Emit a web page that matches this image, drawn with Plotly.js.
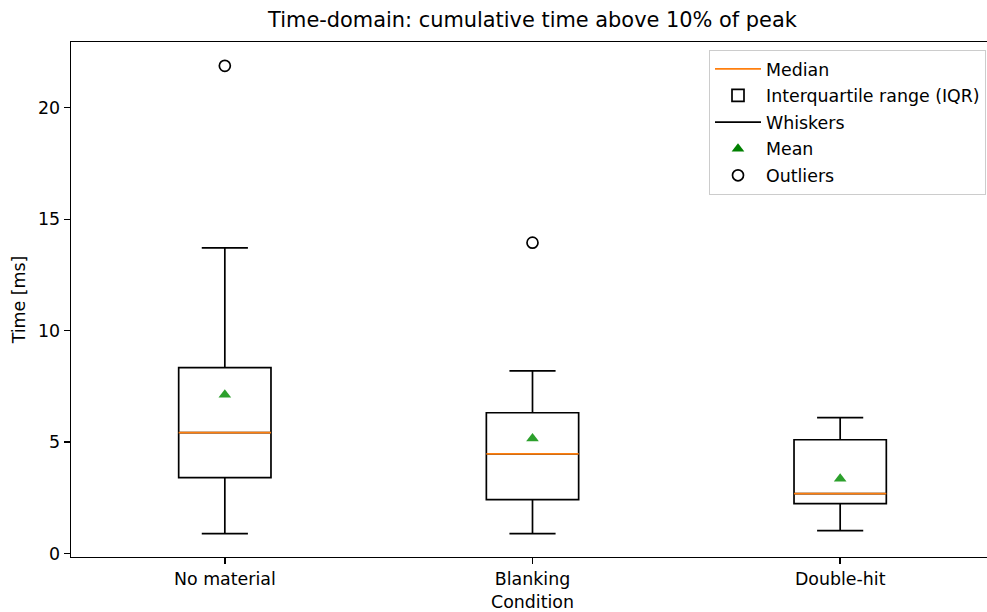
<!DOCTYPE html>
<html>
<head>
<meta charset="utf-8">
<script src="https://cdn.plot.ly/plotly-3.0.1.min.js"></script>
<style>
html,body{margin:0;padding:0;overflow:hidden;background:#fff;}
#chart{width:1000px;height:612px;}
</style>
</head>
<body>
<div id="chart"></div>
<script>
// ---- data ----
const categories = ["No material", "Blanking", "Double-hit"];
const positions = [1, 2, 3];
const lowerWhisker = [0.9, 0.9, 1.03];
const q1 = [3.41, 2.42, 2.24];
const median = [5.43, 4.48, 2.69];
const q3 = [8.34, 6.32, 5.11];
const upperWhisker = [13.72, 8.2, 6.1];
const means = [7.13, 5.16, 3.36];
const outlierX = [1, 2];
const outlierY = [21.88, 13.95];

// ---- styles ----
const BOX_W = 0.3;
const FONT = "DejaVu Sans, sans-serif";
const FS = 17.4;
const LW = 1.7;

const medX = [], medY = [];
positions.forEach((p, i) => {
  medX.push(p - BOX_W / 2, p + BOX_W / 2, null);
  medY.push(median[i], median[i], null);
});

const traces = [
  {
    type: "scatter", mode: "lines", name: "Median",
    x: medX, y: medY,
    line: {color: "#ff7f0e", width: LW},
    legendgroup: "a", legendrank: 1, hoverinfo: "skip"
  },
  {
    type: "box", name: "Interquartile range (IQR)",
    x: positions, q1: q1, median: median, q3: q3,
    lowerfence: lowerWhisker, upperfence: upperWhisker,
    width: BOX_W, whiskerwidth: 0.5,
    boxpoints: false,
    line: {color: "#000000", width: LW},
    fillcolor: "rgba(255,255,255,0)",
    legendgroup: "b", legendrank: 2, hoverinfo: "skip"
  },
  {
    type: "scatter", mode: "lines", name: "Whiskers",
    x: [null], y: [null],
    line: {color: "#000000", width: LW},
    legendgroup: "c", legendrank: 3
  },
  {
    type: "scatter", mode: "markers", name: "Mean",
    x: positions, y: means,
    marker: {symbol: "triangle-up", size: 11, color: "#2ca02c"},
    showlegend: false, hoverinfo: "skip"
  },
  {
    type: "scatter", mode: "markers", name: "Mean",
    x: [null], y: [null],
    marker: {symbol: "triangle-up", size: 11, color: "#008000"},
    legendgroup: "d", legendrank: 4
  },
  {
    type: "scatter", mode: "markers", name: "Outliers",
    x: outlierX, y: outlierY,
    marker: {symbol: "circle-open", size: 11, color: "#000000", line: {width: LW}},
    legendgroup: "e", legendrank: 5, hoverinfo: "skip"
  }
];

const layout = {
  width: 1000, height: 612,
  margin: {l: 71, r: 6, t: 42, b: 55},
  paper_bgcolor: "#ffffff", plot_bgcolor: "#ffffff",
  font: {family: FONT, size: FS, color: "#000000"},
  title: {
    text: "Time-domain: cumulative time above 10% of peak",
    font: {family: FONT, size: 20.9, color: "#000000"},
    xref: "paper", x: 0.5, xanchor: "center",
    yref: "container", y: 1 - 20 / 612, yanchor: "middle"
  },
  xaxis: {
    range: [0.5, 3.5],
    tickvals: positions, ticktext: categories,
    showline: true, mirror: true, linecolor: "#000000", linewidth: 1.4,
    ticks: "outside", ticklen: 6, tickwidth: 1.4, tickcolor: "#000000",
    showgrid: false, zeroline: false,
    tickfont: {family: FONT, size: FS},
    title: {text: "Condition", font: {family: FONT, size: FS}, standoff: 7}
  },
  yaxis: {
    range: [-0.15, 22.95],
    tickvals: [0, 5, 10, 15, 20],
    showline: true, mirror: true, linecolor: "#000000", linewidth: 1.4,
    ticks: "outside", ticklen: 6, tickwidth: 1.4, tickcolor: "#000000",
    showgrid: false, zeroline: false,
    tickfont: {family: FONT, size: FS},
    title: {text: "Time [ms]", font: {family: FONT, size: FS}, standoff: 8}
  },
  showlegend: true,
  legend: {
    x: (986 - 71) / 923, xanchor: "right",
    y: (557 - 50) / 515, yanchor: "top",
    bgcolor: "rgba(255,255,255,0.8)",
    bordercolor: "#cccccc", borderwidth: 1,
    font: {family: FONT, size: FS},
    itemwidth: 46,
    traceorder: "grouped", tracegroupgap: 1
  },
  hovermode: false
};

Plotly.newPlot("chart", traces, layout, {displayModeBar: false, staticPlot: true});
</script>
</body>
</html>
